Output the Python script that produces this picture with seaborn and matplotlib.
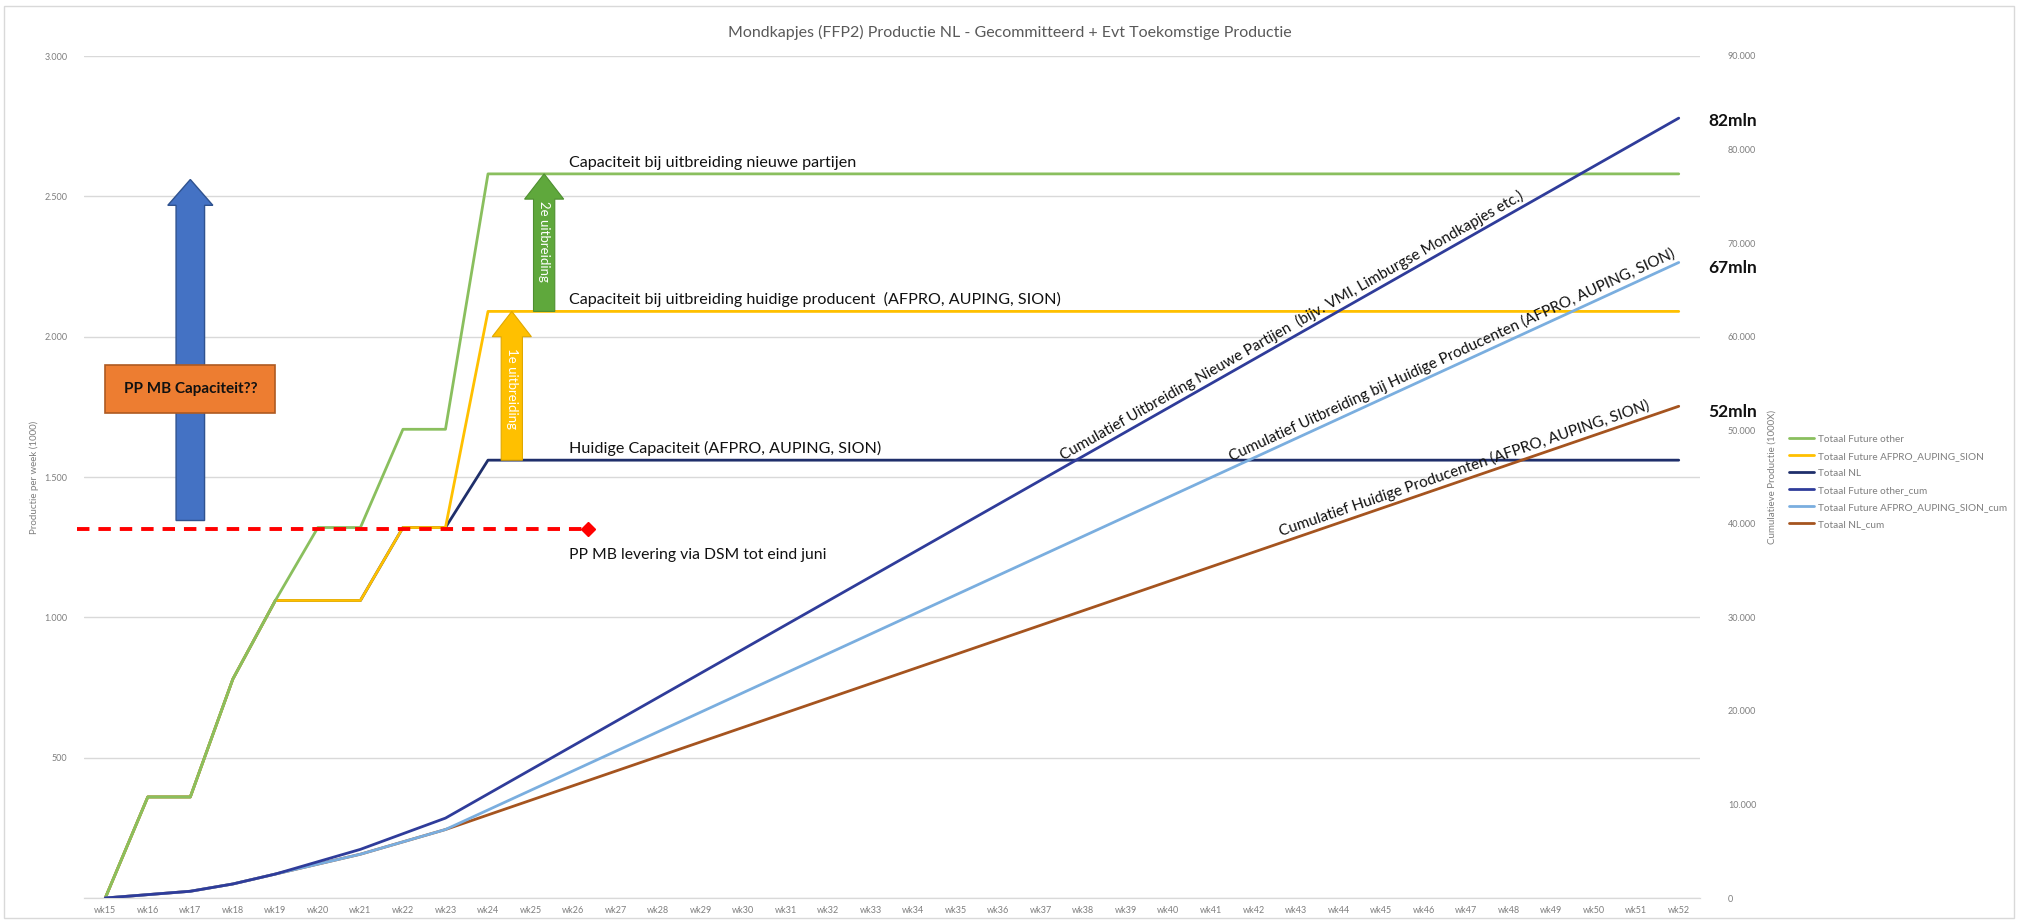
import numpy as np
import matplotlib.pyplot as plt
import seaborn as sns
from matplotlib.patches import FancyArrow, Rectangle

# Week labels on the x-axis
weeks = ['wk15', 'wk16', 'wk17', 'wk18', 'wk19', 'wk20', 'wk21', 'wk22', 'wk23', 'wk24',
         'wk25', 'wk26', 'wk27', 'wk28', 'wk29', 'wk30', 'wk31', 'wk32', 'wk33', 'wk34',
         'wk35', 'wk36', 'wk37', 'wk38', 'wk39', 'wk40', 'wk41', 'wk42', 'wk43', 'wk44',
         'wk45', 'wk46', 'wk47', 'wk48', 'wk49', 'wk50', 'wk51', 'wk52']

# Weekly production (left axis, x1000)
future_other = [0, 360, 360, 780, 1060, 1320, 1320, 1670, 1670, 2580,
                2580, 2580, 2580, 2580, 2580, 2580, 2580, 2580, 2580, 2580,
                2580, 2580, 2580, 2580, 2580, 2580, 2580, 2580, 2580, 2580,
                2580, 2580, 2580, 2580, 2580, 2580, 2580, 2580]
future_aas = [0, 360, 360, 780, 1060, 1060, 1060, 1320, 1320, 2090,
              2090, 2090, 2090, 2090, 2090, 2090, 2090, 2090, 2090, 2090,
              2090, 2090, 2090, 2090, 2090, 2090, 2090, 2090, 2090, 2090,
              2090, 2090, 2090, 2090, 2090, 2090, 2090, 2090]
totaal_nl = [0, 360, 360, 780, 1060, 1060, 1060, 1320, 1320, 1560,
             1560, 1560, 1560, 1560, 1560, 1560, 1560, 1560, 1560, 1560,
             1560, 1560, 1560, 1560, 1560, 1560, 1560, 1560, 1560, 1560,
             1560, 1560, 1560, 1560, 1560, 1560, 1560, 1560]

# Cumulative production (right axis, x1000)
future_other_cum = [0, 360, 720, 1500, 2560, 3880, 5200, 6870, 8540, 11120,
                    13700, 16280, 18860, 21440, 24020, 26600, 29180, 31760, 34340, 36920,
                    39500, 42080, 44660, 47240, 49820, 52400, 54980, 57560, 60140, 62720,
                    65300, 67880, 70460, 73040, 75620, 78200, 80780, 83360]
future_aas_cum = [0, 360, 720, 1500, 2560, 3620, 4680, 6000, 7320, 9410,
                  11500, 13590, 15680, 17770, 19860, 21950, 24040, 26130, 28220, 30310,
                  32400, 34490, 36580, 38670, 40760, 42850, 44940, 47030, 49120, 51210,
                  53300, 55390, 57480, 59570, 61660, 63750, 65840, 67930]
totaal_nl_cum = [0, 360, 720, 1500, 2560, 3620, 4680, 6000, 7320, 8880,
                 10440, 12000, 13560, 15120, 16680, 18240, 19800, 21360, 22920, 24480,
                 26040, 27600, 29160, 30720, 32280, 33840, 35400, 36960, 38520, 40080,
                 41640, 43200, 44760, 46320, 47880, 49440, 51000, 52560]

# Annotation levels
dsm_level = 1315
dsm_start = -0.67
dsm_end = 11.36

sns.set_style('white')
plt.rcParams['font.family'] = ['Lato', 'DejaVu Sans']

idx = np.arange(len(weeks))

fig = plt.figure(figsize=(20.2, 9.22), dpi=100)
ax = fig.add_axes([84 / 2020, 1 - 898 / 922, (1700 - 84) / 2020, (898 - 56) / 922])
ax2 = ax.twinx()

# Weekly lines (green on top, then yellow, then navy)
sns.lineplot(x=idx, y=totaal_nl, ax=ax, color='#1F2F6B', lw=2, zorder=3)
h_nl = ax.lines[-1]
sns.lineplot(x=idx, y=future_aas, ax=ax, color='#FFC000', lw=2, zorder=4)
h_aas = ax.lines[-1]
sns.lineplot(x=idx, y=future_other, ax=ax, color='#8ABF5E', lw=2, zorder=5)
h_other = ax.lines[-1]

# Cumulative lines
sns.lineplot(x=idx, y=totaal_nl_cum, ax=ax2, color='#A5541F', lw=2, zorder=3)
h_nl_cum = ax2.lines[-1]
sns.lineplot(x=idx, y=future_aas_cum, ax=ax2, color='#7AAEDF', lw=2, zorder=4)
h_aas_cum = ax2.lines[-1]
sns.lineplot(x=idx, y=future_other_cum, ax=ax2, color='#2F3C9A', lw=2, zorder=5)
h_other_cum = ax2.lines[-1]

ax.set_xlim(-0.5, len(weeks) - 0.5)
ax.set_ylim(0, 3000)
ax2.set_ylim(0, 90000)

left_ticks = [0, 500, 1000, 1500, 2000, 2500, 3000]
ax.set_yticks(left_ticks)
ax.set_yticklabels([''] + [f'{v:,}'.replace(',', '.') for v in left_ticks[1:]])
right_ticks = list(range(0, 90001, 10000))
ax2.set_yticks(right_ticks)
ax2.set_yticklabels([f'{v:,}'.replace(',', '.') for v in right_ticks])
ax.set_xticks(idx)
ax.set_xticklabels(weeks)

ax.grid(axis='y', color='#D9D9D9', lw=1)
ax2.grid(False)
for a in (ax, ax2):
    for s in ['top', 'left', 'right']:
        a.spines[s].set_visible(False)
    a.spines['bottom'].set_color('#D9D9D9')
ax.tick_params(axis='x', length=0, labelsize=6.5, colors='#7F7F7F', pad=6)
ax.tick_params(axis='y', length=0, labelsize=6.5, colors='#7F7F7F', pad=12)
ax2.tick_params(axis='y', length=0, labelsize=6.5, colors='#7F7F7F', pad=20)
ax.set_ylabel('Productie per week (1000)', fontsize=7, color='#7F7F7F', labelpad=4)
ax2.set_ylabel('Cumulatieve Productie (1000X)', fontsize=7, color='#7F7F7F', labelpad=8)
ax.set_xlabel('')

fig.suptitle('Mondkapjes (FFP2) Productie NL - Gecommitteerd + Evt Toekomstige Productie',
             y=1 - 32 / 922, va='center', fontsize=11.5, color='#595959')

# Red dashed DSM delivery line
ax.plot([dsm_start, dsm_end], [dsm_level, dsm_level], color='#FF0000', lw=2.8,
        ls=(0, (3.2, 2.3)), clip_on=False, zorder=6)
ax.plot([dsm_end], [dsm_level], marker='D', ms=7, color='#FF0000', clip_on=False, zorder=6)
ax.text(10.9, 1222, 'PP MB levering via DSM tot eind juni', va='center', ha='left',
        fontsize=11.3, color='#111111')

# Big blue arrow with orange box
ax.add_patch(FancyArrow(2.0, 1345, 0, 2560 - 1345, width=0.67, head_width=1.06,
                        head_length=92, length_includes_head=True,
                        fc='#4472C4', ec='#2F528F', lw=1, zorder=7))
ax.add_patch(Rectangle((0.0, 1728), 4.0, 170, fc='#ED7D31', ec='#AE5A21', lw=1.2, zorder=8))
ax.text(2.0, 1813, 'PP MB Capaciteit??', ha='center', va='center', fontsize=11,
        weight='bold', color='#111111', zorder=9)

# Expansion arrows
ax.add_patch(FancyArrow(9.56, 1560, 0, 2090 - 1560, width=0.5, head_width=0.92,
                        head_length=90, length_includes_head=True,
                        fc='#FFC000', ec='#E0A800', lw=0.8, zorder=7))
ax.text(9.56, 1815, '1e uitbreiding', rotation=270, ha='center', va='center',
        fontsize=9.5, color='white', zorder=9)
ax.add_patch(FancyArrow(10.32, 2090, 0, 2580 - 2090, width=0.5, head_width=0.92,
                        head_length=90, length_includes_head=True,
                        fc='#5FA83C', ec='#4E8F30', lw=0.8, zorder=7))
ax.text(10.32, 2340, '2e uitbreiding', rotation=270, ha='center', va='center',
        fontsize=9.5, color='white', zorder=9)

# Capacity labels
for y, s in [(2580, 'Capaciteit bij uitbreiding nieuwe partijen'),
             (2090, 'Capaciteit bij uitbreiding huidige producent  (AFPRO, AUPING, SION)'),
             (1560, 'Huidige Capaciteit (AFPRO, AUPING, SION)')]:
    ax.annotate(s, xy=(10.9, y), xytext=(0, 3), textcoords='offset points',
                ha='left', va='bottom', fontsize=11.6, color='#111111')

# End labels
for y, s in [(83054, '82mln'), (67340, '67mln'), (51950, '52mln')]:
    ax2.text(37.69, y, s, ha='left', va='center', fontsize=12.5, weight='bold', color='#111111')


# Labels along the cumulative lines
def screen_angle(series):
    p0 = ax2.transData.transform((20, series[20]))
    p1 = ax2.transData.transform((36, series[36]))
    return np.degrees(np.arctan2(p1[1] - p0[1], p1[0] - p0[0]))


for start, series, s in [
        (22.6, future_other_cum, 'Cumulatief Uitbreiding Nieuwe Partijen  (bijv. VMI, Limburgse Mondkapjes etc.)'),
        (26.55, future_aas_cum, 'Cumulatief Uitbreiding bij Huidige Producenten (AFPRO, AUPING, SION)'),
        (27.7, totaal_nl_cum, 'Cumulatief Huidige Producenten (AFPRO, AUPING, SION)')]:
    yv = np.interp(start, idx, series)
    ax2.annotate(s, xy=(start, yv), xytext=(-1, 2), textcoords='offset points',
                 rotation=screen_angle(series), rotation_mode='anchor',
                 ha='left', va='bottom', fontsize=11, color='#111111', zorder=9)

# Legend
handles = [h_other, h_aas, h_nl, h_other_cum, h_aas_cum, h_nl_cum]
labels = ['Totaal Future other', 'Totaal Future AFPRO_AUPING_SION', 'Totaal NL',
          'Totaal Future other_cum', 'Totaal Future AFPRO_AUPING_SION_cum', 'Totaal NL_cum']
fig.legend(handles, labels, loc='upper left', bbox_to_anchor=(1784 / 2020, 1 - 430 / 922),
           frameon=False, fontsize=7.2, labelcolor='#7F7F7F', handlelength=2.5,
           handletextpad=0.4, labelspacing=0.8, borderpad=0)

# Chart area border
fig.patches.append(Rectangle((0.002, 0.004), 0.995, 0.99, transform=fig.transFigure,
                             fill=False, ec='#D9D9D9', lw=1))

fig.savefig('out.png', dpi=100)
